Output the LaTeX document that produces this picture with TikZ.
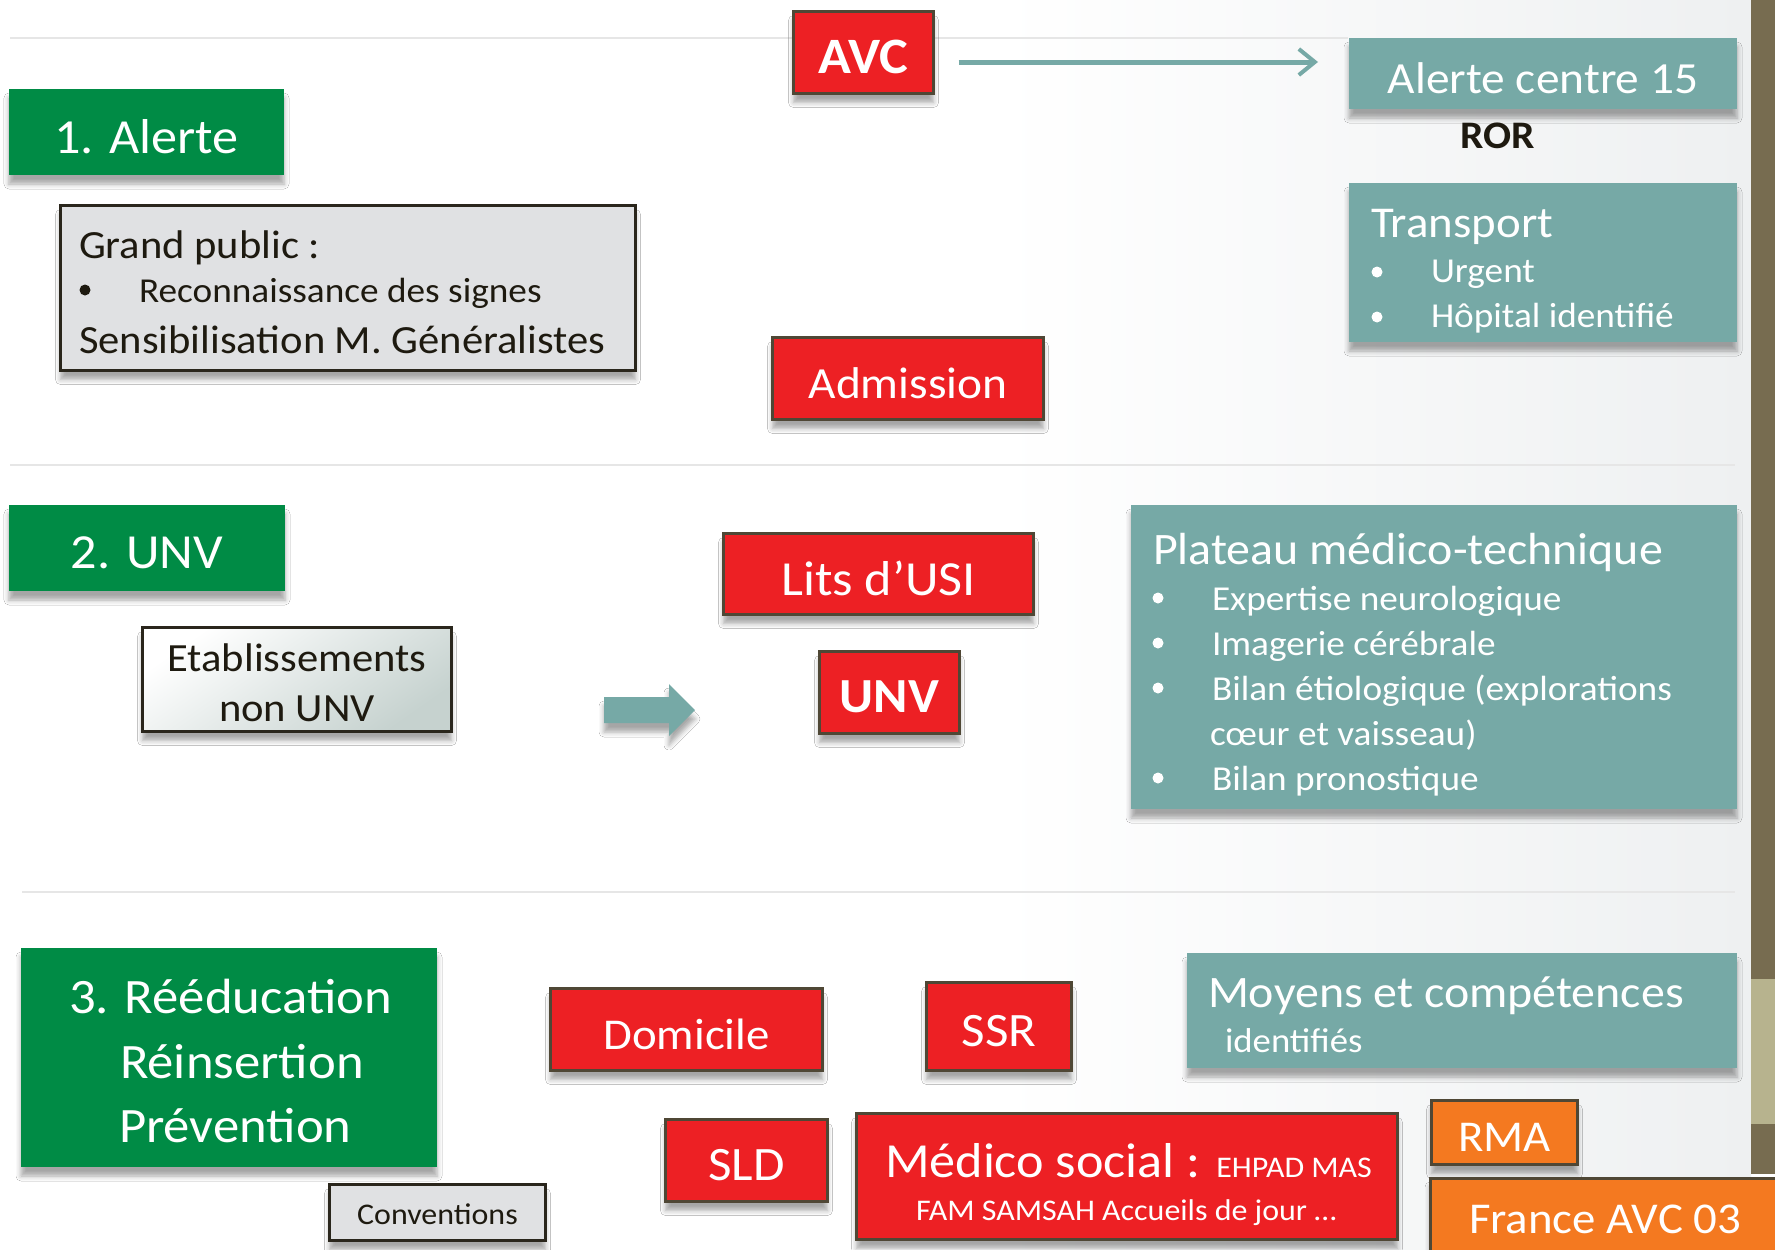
\documentclass[tikz,border=0pt]{standalone}
\usepackage{fontspec}
\setmainfont{Carlito}[FakeStretch=1.065]
\usetikzlibrary{shadows.blur,arrows.meta}
\definecolor{avcgreen}{HTML}{008B45}
\definecolor{avcred}{HTML}{ED2024}
\definecolor{avcteal}{HTML}{76A9A6}
\definecolor{avcorange}{HTML}{F47920}
\definecolor{boxline}{HTML}{4F4735}
\definecolor{darkline}{HTML}{2A261C}
\definecolor{darktext}{HTML}{1E1A10}
\definecolor{boxgray}{HTML}{E0E1E3}
\definecolor{etabgray}{HTML}{C6D2CF}
\definecolor{sepgray}{HTML}{E6E6E6}
\definecolor{stripdark}{HTML}{776C50}
\definecolor{striptan}{HTML}{B7B38E}
\definecolor{bgright}{HTML}{EEF0F1}
\newcommand\fsz[1]{\fontsize{#1}{#1}\selectfont}
\newcommand\dn[1]{\raisebox{-4.5pt}[\height][\depth]{#1}}
\begin{document}
\begin{tikzpicture}[x=1pt,y=-1pt,
  base/.style={inner sep=0pt, outer sep=0pt},
  shad/.style={blur shadow={shadow xshift=0pt, shadow yshift=-9pt, shadow blur radius=5pt, shadow opacity=35}},
  rbox/.style={base, shad, fill=avcred, draw=boxline, line width=3pt, text=white},
  obox/.style={rbox, fill=avcorange},
  tbox/.style={base, shad, fill=avcteal, text=white},
  gbox/.style={base, shad, fill=avcgreen, text=white},
  graybox/.style={base, shad, fill=boxgray, draw=darkline, line width=3pt, text=darktext},
  txt/.style={inner sep=0pt, outer sep=0pt, text=darktext},
  wtxt/.style={inner sep=0pt, outer sep=0pt, text=white},
  conn/.style={draw=avcteal, line width=5pt, -{Straight Barb[length=16pt, width=26pt, line width=4pt]}},
  sep/.style={draw=sepgray, line width=2.5pt},
  bul/.style={fill=white}
]
\useasboundingbox (0,0) rectangle (1775,1250);
% background
\fill[white] (0,0) rectangle (1775,1250);
\shade[left color=white, right color=bgright] (1000,0) rectangle (1751,1250);
\fill[stripdark] (1751,0) rectangle (1775,979);
\fill[striptan] (1751,979) rectangle (1775,1124);
\fill[stripdark] (1751,1124) rectangle (1775,1174);
% separators
\draw[sep] (10,38) -- (1348,38);
\draw[sep] (10,465) -- (1735,465);
\draw[sep] (22,892) -- (1735,892);

% ---- Section 1
\node[gbox, minimum width=275pt, minimum height=86pt] (g1) at (146.5,132) {\dn{\fsz{49}1. Alerte}};
\node[graybox, minimum width=575pt, minimum height=165pt] (gp) at (348,288) {};
\node[txt, anchor=base west] (gp1) at (79,258) {\fsz{40}Grand public :};
\fill[darktext] (85,290) circle (5.5pt);
\node[txt, anchor=base west] (gp2) at (139,302) {\fsz{35}Reconnaissance des signes};
\node[txt, anchor=base west] (gp3) at (79,353) {\fsz{40}Sensibilisation M. Généralistes};

\node[rbox, minimum width=140pt, minimum height=82pt] (avc) at (863.5,52.5) {\dn{\bfseries\fsz{51}AVC}};
\node[tbox, minimum width=388pt, minimum height=71pt] (al15) at (1543,73.5) {\dn{\fsz{44.5}Alerte centre 15}};
\draw[conn] ([xshift=25pt,yshift=-9.5pt]avc.east) -- ([xshift=-31pt,yshift=11.5pt]al15.west);
\node[txt] (ror) at (1498,135.5) {\bfseries\fsz{39}ROR};

\node[tbox, minimum width=388pt, minimum height=159pt] (tr) at (1543,262.5) {};
\node[wtxt, anchor=base west] (tr1) at (1371,237) {\fsz{44}Transport};
\fill[bul] (1377,272) circle (5.5pt);
\node[wtxt, anchor=base west] (tr2) at (1431,282) {\fsz{35}Urgent};
\fill[bul] (1377,317) circle (5.5pt);
\node[wtxt, anchor=base west] (tr3) at (1431,327) {\fsz{35}Hôpital identifié};

\node[rbox, minimum width=271pt, minimum height=82pt] (adm) at (908,378.5) {\dn{\fsz{44.5}Admission}};

% ---- Section 2
\node[gbox, minimum width=276pt, minimum height=86pt] (g2) at (147,548) {\dn{\fsz{49}2. UNV}};
\node[base, shad, draw=darkline, line width=3pt, top color=white, bottom color=etabgray, shading angle=35, minimum width=309pt, minimum height=104pt] (etab) at (297,679.5) {};
\node[txt, anchor=base] (etab1) at (297,671) {\fsz{40}Etablissements};
\node[txt, anchor=base] (etab2) at (297,721) {\fsz{40}non UNV};
\fill[avcteal, shad] (604,697) -- (669,697) -- (669,684) -- (695,710) -- (669,736) -- (669,723) -- (604,723) -- cycle;

\node[rbox, minimum width=310pt, minimum height=81pt] (lits) at (878.5,574) {\dn{\fsz{49}Lits d’USI}};
\node[rbox, minimum width=140pt, minimum height=82pt] (unv) at (889.5,692.5) {\dn{\bfseries\fsz{49}UNV}};

\node[tbox, minimum width=606pt, minimum height=304pt] (plat) at (1434,657) {};
\node[wtxt, anchor=base west] (pl0) at (1153,564) {\fsz{45}Plateau médico-technique};
\fill[bul] (1158,598) circle (5.5pt);
\node[wtxt, anchor=base west] (pl1) at (1212,610) {\fsz{35}Expertise neurologique};
\fill[bul] (1158,643) circle (5.5pt);
\node[wtxt, anchor=base west] (pl2) at (1212,655) {\fsz{35}Imagerie cérébrale};
\fill[bul] (1158,688) circle (5.5pt);
\node[wtxt, anchor=base west] (pl3) at (1212,700) {\fsz{35}Bilan étiologique (explorations};
\node[wtxt, anchor=base west] (pl4) at (1210,745) {\fsz{35}cœur et vaisseau)};
\fill[bul] (1158,778) circle (5.5pt);
\node[wtxt, anchor=base west] (pl5) at (1212,790) {\fsz{35}Bilan pronostique};

% ---- Section 3
\node[gbox, minimum width=416pt, minimum height=219pt] (g3) at (229,1057.5) {};
\node[wtxt, anchor=base west] (g3a) at (69,1013) {\fsz{49.5}3. Rééducation};
\node[wtxt, anchor=base west] (g3b) at (120,1078) {\fsz{49.5}Réinsertion};
\node[wtxt, anchor=base west] (g3c) at (119,1142) {\fsz{49.5}Prévention};

\node[graybox, minimum width=216pt, minimum height=56pt] (conv) at (437.5,1212.5) {\raisebox{-2pt}[\height][\depth]{\fsz{30}Conventions}};

\node[rbox, minimum width=272pt, minimum height=82pt] (dom) at (686.5,1029.5) {\dn{\fsz{44}Domicile}};
\node[rbox, minimum width=145pt, minimum height=88pt] (ssr) at (999,1026.5) {\dn{\fsz{48}SSR}};
\node[rbox, minimum width=162pt, minimum height=82pt] (sld) at (746.5,1160.5) {\dn{\fsz{48}SLD}};

\node[tbox, minimum width=550pt, minimum height=115pt] (moy) at (1462,1010.5) {};
\node[wtxt, anchor=base west] (moy1) at (1208,1007) {\fsz{45}Moyens et compétences};
\node[wtxt, anchor=base west] (moy2) at (1225,1052) {\fsz{34.5}identifiés};

\node[rbox, minimum width=541pt, minimum height=126pt] (med) at (1127,1176.5) {};
\node[wtxt, anchor=base west] (med1) at (885,1177) {\fsz{49}Médico social : \fsz{30}EHPAD MAS};
\node[wtxt, anchor=base west] (med2) at (916,1220) {\fsz{30}FAM SAMSAH Accueils de jour …};

\node[obox, minimum width=146pt, minimum height=64pt] (rma) at (1504.5,1132.5) {\dn{\fsz{44}RMA}};
\node[obox, minimum width=360pt, minimum height=100pt, anchor=north west] (fr) at (1430,1178) {};
\node[wtxt, anchor=base west] (fr1) at (1469,1233) {\fsz{44}France AVC 03};
\end{tikzpicture}
\end{document}
